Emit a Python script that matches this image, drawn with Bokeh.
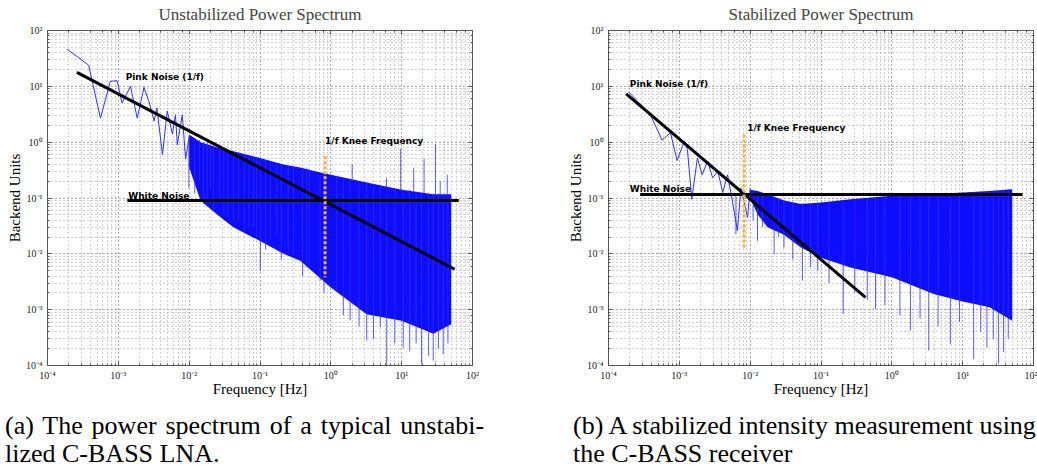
from bokeh.plotting import figure
from bokeh.models import Range1d, CustomJSTickFormatter, Div, LogAxis
from bokeh.layouts import column, row
from bokeh.embed import file_html
from bokeh.resources import INLINE
from bokeh.core.properties import value

titles = ["Unstabilized Power Spectrum", "Stabilized Power Spectrum"]
x_label = "Frequency [Hz]"
y_label = "Backend Units"
label_text = ["Pink Noise (1/f)", "White Noise", "1/f Knee Frequency"]

# ---------------- Panel (a): unstabilized ----------------
# sparse low-frequency part of the spectrum
lf_freq_a = [1.9e-4, 3.8e-4, 5.6e-4, 7.7e-4, 9.6e-4, 1.13e-3, 1.48e-3, 1.85e-3, 2.3e-3, 2.7e-3,
             3.2e-3, 3.5e-3, 4.2e-3, 4.9e-3, 5.8e-3, 6.4e-3, 6.8e-3, 8.0e-3, 8.9e-3, 1.0e-2]
lf_pow_a = [46, 24, 2.7, 12.3, 12.6, 5.0, 10.0, 2.7, 9.6, 5.4,
            2.4, 4.1, 0.6, 3.6, 1.4, 3.1, 0.9, 3.1, 0.5, 1.2]
# dense part: envelope of the noise band
band_freq_a = [1.0e-2, 1.45e-2, 2.5e-2, 4.2e-2, 0.1, 0.215, 0.37, 0.6, 1.0, 3.2, 10, 28, 50]
band_hi_a = [1.37, 1.0, 0.8, 0.69, 0.52, 0.40, 0.35, 0.30, 0.26, 0.19, 0.14, 0.117, 0.117]
band_lo_a = [0.35, 0.089, 0.05, 0.03, 0.017, 0.010, 0.0075, 0.0044, 0.0025, 8.3e-4, 6.3e-4, 3.7e-4, 5.5e-4]
# individual spikes of the noise (frequency, bottom, top)
spike_f_a = [9.9e-3, 0.012, 0.014, 0.016, 0.0179, 0.02, 0.022, 0.027, 0.0308, 0.035, 0.0425,
             0.05, 0.06, 0.07, 0.0814, 0.09, 0.101, 0.12, 0.14, 0.173, 0.2, 0.25, 0.298,
             0.4, 0.459, 0.5, 0.708, 0.8, 1.22, 1.5, 1.87, 2.5, 3.21, 4.0, 5.0, 6.15, 8.0,
             10.5, 13.0, 16.0, 19.1, 24.0, 27.9, 33.0, 38.6, 45.0,
             2.0, 6.1, 9.7, 14.8, 20.7, 30.0, 35.0, 44.0]
spike_lo_a = [0.153, 0.12, 0.2, 0.09, 0.088, 0.15, 0.06, 0.1, 0.051, 0.045, 0.039,
              0.04, 0.025, 0.03, 0.0295, 0.02, 0.005, 0.012, 0.018, 0.0224, 0.008, 0.012, 0.00986,
              0.004, 0.0057, 0.006, 0.0033, 0.002, 0.0022, 8e-4, 6.4e-4, 5e-4, 2.8e-4, 3e-4, 5e-4,
              1.0e-4, 2.5e-4, 2.1e-4, 1.8e-4, 2.5e-4, 1.07e-4, 1.5e-4, 1.23e-4, 2e-4, 1.6e-4, 2.5e-4,
              0.2, 0.15, 0.13, 0.13, 0.12, 0.11, 0.11, 0.11]
spike_hi_a = [1.3, 1.2, 1.1, 1.0, 1.0, 0.9, 0.9, 0.85, 0.8, 0.75, 0.69,
              0.66, 0.62, 0.58, 0.55, 0.53, 0.5, 0.48, 0.45, 0.4, 0.38, 0.37, 0.36,
              0.35, 0.34, 0.32, 0.28, 0.27, 0.25, 0.23, 0.22, 0.2, 0.19, 0.18, 0.17,
              0.15, 0.15, 0.14, 0.14, 0.13, 0.12, 0.12, 0.12, 0.12, 0.12, 0.12,
              0.40, 0.23, 0.76, 0.35, 0.5, 0.92, 0.2, 0.26]
# model lines
pink_f_a = [2.6e-4, 56]
pink_v_a = [17.8, 0.0053]
white_f_a = [1.34e-3, 64]
white_v_a = [0.09, 0.09]
knee_f_a = [0.83, 0.83]
knee_v_a = [0.56, 0.0038]
label_f_a = [1.27e-3, 1.38e-3, 0.83]
label_v_a = [14.5, 0.109, 1.07]

# ---------------- Panel (b): stabilized ----------------
lf_freq_b = [1.93e-4, 3.9e-4, 5.7e-4, 7.5e-4, 9.3e-4, 1.18e-3, 1.3e-3, 1.5e-3, 1.8e-3, 2.1e-3,
             2.5e-3, 2.95e-3, 3.5e-3, 4.1e-3, 4.8e-3, 5.6e-3, 6.6e-3, 7.4e-3, 9.2e-3, 1.0e-2]
lf_pow_b = [7.9, 3.1, 1.09, 1.47, 0.47, 1.04, 0.74, 0.095, 0.52, 0.26,
            0.46, 0.23, 0.30, 0.126, 0.26, 0.089, 0.026, 0.15, 0.045, 0.15]
band_freq_b = [1.0e-2, 1.27e-2, 1.76e-2, 3.0e-2, 5.2e-2, 0.1, 0.26, 1.0, 3.9, 10, 24, 50]
band_hi_b = [0.14, 0.133, 0.117, 0.09, 0.078, 0.083, 0.095, 0.11, 0.117, 0.126, 0.133, 0.143]
band_lo_b = [0.1, 0.051, 0.03, 0.022, 0.013, 0.0085, 0.0057, 0.0038, 0.0019, 0.0014, 0.0011, 6.3e-4]
spike_f_b = [6.3e-3, 0.011, 0.0127, 0.015, 0.0218, 0.025, 0.03, 0.04, 0.0546, 0.0714, 0.09,
             0.13, 0.206, 0.3, 0.45, 0.589, 0.8, 1.3, 1.83, 2.5, 3.32, 4.5, 6.7, 9.0,
             14.3, 18.0, 22.0, 27.0, 32.2, 37.8, 44.0]
spike_lo_b = [0.0224, 0.04, 0.017, 0.03, 0.0099, 0.02, 0.013, 0.008, 0.0033, 0.0057, 0.005,
              0.003, 8.4e-4, 0.002, 0.0015, 1.03e-3, 0.0012, 8e-4, 4.2e-4, 7e-4, 1.85e-4, 5e-4, 2.4e-4, 6e-4,
              1.32e-4, 4e-4, 2.1e-4, 3e-4, 1.07e-4, 1.74e-4, 3e-4]
spike_hi_b = [0.12, 0.13, 0.12, 0.12, 0.11, 0.1, 0.09, 0.085, 0.08, 0.08, 0.082,
              0.085, 0.09, 0.095, 0.1, 0.1, 0.105, 0.11, 0.11, 0.115, 0.115, 0.12, 0.12, 0.125,
              0.126, 0.13, 0.13, 0.135, 0.135, 0.14, 0.145]
pink_f_b = [1.78e-4, 0.425]
pink_v_b = [7.3, 0.00166]
white_f_b = [2.8e-4, 70]
white_v_b = [0.116, 0.116]
knee_f_b = [8.2e-3, 8.2e-3]
knee_v_b = [1.37, 0.0128]
label_f_b = [2.0e-4, 2.0e-4, 9.1e-3]
label_v_b = [11.0, 0.143, 1.8]

caption_a = ["(a) The power spectrum of a typical unstabi-", "lized C-BASS LNA."]
caption_b = ["(b) A stabilized intensity measurement using", "the C-BASS receiver"]

SUP_JS = """
const sup = {"-":"\\u207B","0":"\\u2070","1":"\\u00B9","2":"\\u00B2","3":"\\u00B3","4":"\\u2074",
             "5":"\\u2075","6":"\\u2076","7":"\\u2077","8":"\\u2078","9":"\\u2079"};
const e = Math.round(Math.log10(tick));
return "10" + String(e).split("").map(c => sup[c]).join("");
"""
BLANK_JS = "return ' ';"

BLUE = "#0000ff"
SPIKE = "#3030ff"
ORANGE = "#f5b041"
GRIDC = "#9a9a9a"
EDGE = "#555555"


def mirror_axis(p, side):
    ax = LogAxis(formatter=CustomJSTickFormatter(code=BLANK_JS))
    ax.major_label_text_font_size = "2px"
    ax.major_label_standoff = 0
    ax.axis_line_color = EDGE
    ax.major_tick_in = 4
    ax.major_tick_out = 0
    ax.minor_tick_in = 2
    ax.minor_tick_out = 0
    ax.major_tick_line_color = EDGE
    ax.minor_tick_line_color = EDGE
    p.add_layout(ax, side)


def panel(title, width, bl, br, lf_f, lf_p, bf, bhi, blo, sf, slo, shi,
          pf, pv, wf, wv, kf, kv, lf, lv):
    p = figure(width=width, height=400, x_axis_type="log", y_axis_type="log",
               x_range=Range1d(1e-4, 1e2), y_range=Range1d(1e-4, 1e2),
               output_backend="svg", toolbar_location=None,
               min_border_left=bl, min_border_right=br, min_border_top=29,
               min_border_bottom=35)
    p.title.text = title
    p.title.text_font = "Liberation Serif"
    p.title.text_font_size = "17px"
    p.title.text_font_style = "normal"
    p.title.align = "center"
    p.title.standoff = 4
    p.outline_line_color = EDGE
    p.background_fill_color = "white"
    p.border_fill_color = "white"

    for ax in (p.xaxis[0], p.yaxis[0]):
        ax.formatter = CustomJSTickFormatter(code=SUP_JS)
        ax.major_label_text_font = "Liberation Serif"
        ax.major_label_text_font_size = "10px"
        ax.major_label_text_color = "#222222"
        ax.axis_label_text_font = "Liberation Serif"
        ax.axis_label_text_font_size = "15px"
        ax.axis_label_text_font_style = "normal"
        ax.axis_label_text_color = "black"
        ax.axis_line_color = EDGE
        ax.major_tick_in = 4
        ax.major_tick_out = 0
        ax.minor_tick_in = 2
        ax.minor_tick_out = 0
        ax.major_tick_line_color = EDGE
        ax.minor_tick_line_color = EDGE
    p.xaxis.axis_label = x_label
    p.yaxis.axis_label = y_label
    p.xaxis.major_label_standoff = 4
    p.xaxis.axis_label_standoff = -3
    p.yaxis.major_label_standoff = 5
    p.yaxis.axis_label_standoff = 0
    mirror_axis(p, "above")
    mirror_axis(p, "right")

    for g in p.grid:
        g.grid_line_color = GRIDC
        g.grid_line_dash = "1 3"
        g.grid_line_alpha = 0.9
        g.minor_grid_line_color = GRIDC
        g.minor_grid_line_dash = "1 3"
        g.minor_grid_line_alpha = 0.9

    p.varea(x=bf, y1=blo, y2=bhi, fill_color=BLUE, fill_alpha=0.95)
    p.segment(x0=sf, y0=slo, x1=sf, y1=shi, line_color=SPIKE, line_width=1, line_alpha=0.8)
    p.line(lf_f, lf_p, line_color=SPIKE, line_width=1)
    p.line(pf, pv, line_color="black", line_width=3)
    p.line(wf, wv, line_color="black", line_width=3)
    p.line(kf, kv, line_color=ORANGE, line_width=3, line_dash="3 2")
    p.text(x=lf, y=lv, text=label_text, text_font=value("DejaVu Sans"),
           text_font_style="bold", text_font_size="9px", text_baseline="alphabetic",
           text_color="black")
    return p


pa = panel(titles[0], 517, 47, 45, lf_freq_a, lf_pow_a, band_freq_a, band_hi_a, band_lo_a,
           spike_f_a, spike_lo_a, spike_hi_a, pink_f_a, pink_v_a, white_f_a, white_v_a,
           knee_f_a, knee_v_a, label_f_a, label_v_a)
pb = panel(titles[1], 520, 91, 3, lf_freq_b, lf_pow_b, band_freq_b, band_hi_b, band_lo_b,
           spike_f_b, spike_lo_b, spike_hi_b, pink_f_b, pink_v_b, white_f_b, white_v_b,
           knee_f_b, knee_v_b, label_f_b, label_v_b)

cap_style = ("font-family:'Liberation Serif';font-size:26px;line-height:28px;"
             "white-space:nowrap;color:black;margin-top:7px;")
cap_a = Div(text='<div style="%s"><span style="word-spacing:2.4px">%s</span><br>%s</div>'
            % (cap_style, caption_a[0], caption_a[1]), width=558, height=71)
cap_b = Div(text='<div style="%s">%s<br>%s</div>' % (cap_style, caption_b[0], caption_b[1]),
            width=479, height=71, styles={"overflow": "hidden"})

layout = column(row(pa, pb), row(cap_a, cap_b))
open("out.html", "w").write(file_html(layout, INLINE))
